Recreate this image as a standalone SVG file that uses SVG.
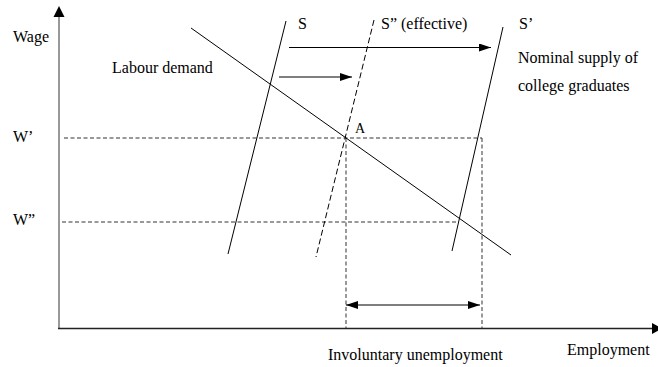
<svg xmlns="http://www.w3.org/2000/svg" width="658" height="367" viewBox="0 0 658 367">
<style>
text{font-family:"Liberation Serif","Times New Roman","DejaVu Serif",serif;font-size:16px;fill:#000}
.ln{stroke:#000;stroke-width:1;fill:none}
.dash{stroke:#333;stroke-width:1;stroke-dasharray:4,2.5;fill:none}
.sd{stroke:#000;stroke-width:1;stroke-dasharray:6,3;fill:none}
.ar{stroke:#000;stroke-width:1.2;fill:none}
</style>
<defs>
<marker id="ah" viewBox="0 0 12 8" refX="12" refY="4" markerWidth="12" markerHeight="8" markerUnits="userSpaceOnUse" orient="auto-start-reverse"><path d="M0,0L12,4L0,8Z" fill="#000"/></marker>
</defs>
<rect width="658" height="367" fill="#fff"/>
<g id="axes">
<line x1="59" y1="16" x2="59" y2="329" stroke="#777" stroke-width="1.5"/>
<path d="M53.5,17L59,6L64.5,17Z" fill="#000"/>
<line x1="58" y1="328.5" x2="652" y2="328.5" stroke="#222" stroke-width="1.3"/>
<path d="M652,323L662,328.5L652,334Z" fill="#000"/>
</g>
<g id="guides">
<line class="dash" x1="64" y1="138" x2="482" y2="138"/>
<line class="dash" x1="62" y1="222" x2="459" y2="222"/>
<line class="dash" x1="346" y1="138" x2="346" y2="328"/>
<line class="dash" x1="482" y1="138" x2="482" y2="328"/>
</g>
<g id="demand"><line class="ln" x1="191" y1="28" x2="511" y2="255"/></g>
<g id="S"><line class="ln" x1="286" y1="21" x2="228" y2="254"/></g>
<g id="S2"><line class="sd" x1="374" y1="20" x2="316" y2="257"/></g>
<g id="S1"><line class="ln" x1="503" y1="27" x2="452" y2="251"/></g>
<g id="connectors">
<line class="ar" x1="289" y1="47.5" x2="491" y2="47.5" marker-end="url(#ah)"/>
<line class="ar" x1="279" y1="77" x2="352" y2="77" marker-end="url(#ah)"/>
<line class="ar" x1="346" y1="305" x2="480" y2="305" marker-start="url(#ah)" marker-end="url(#ah)"/>
</g>
<g id="labels">
<text x="13" y="42">Wage</text>
<text x="112" y="73">Labour demand</text>
<text x="298" y="29">S</text>
<text x="381" y="29">S” (effective)</text>
<text x="519" y="29">S’</text>
<text x="518" y="63">Nominal supply of</text>
<text x="518" y="91">college graduates</text>
<text x="355" y="133" style="font-size:14px">A</text>
<text x="13" y="142">W’</text>
<text x="13" y="225">W”</text>
<text x="328" y="360">Involuntary unemployment</text>
<text x="567" y="355">Employment</text>
</g>
</svg>
